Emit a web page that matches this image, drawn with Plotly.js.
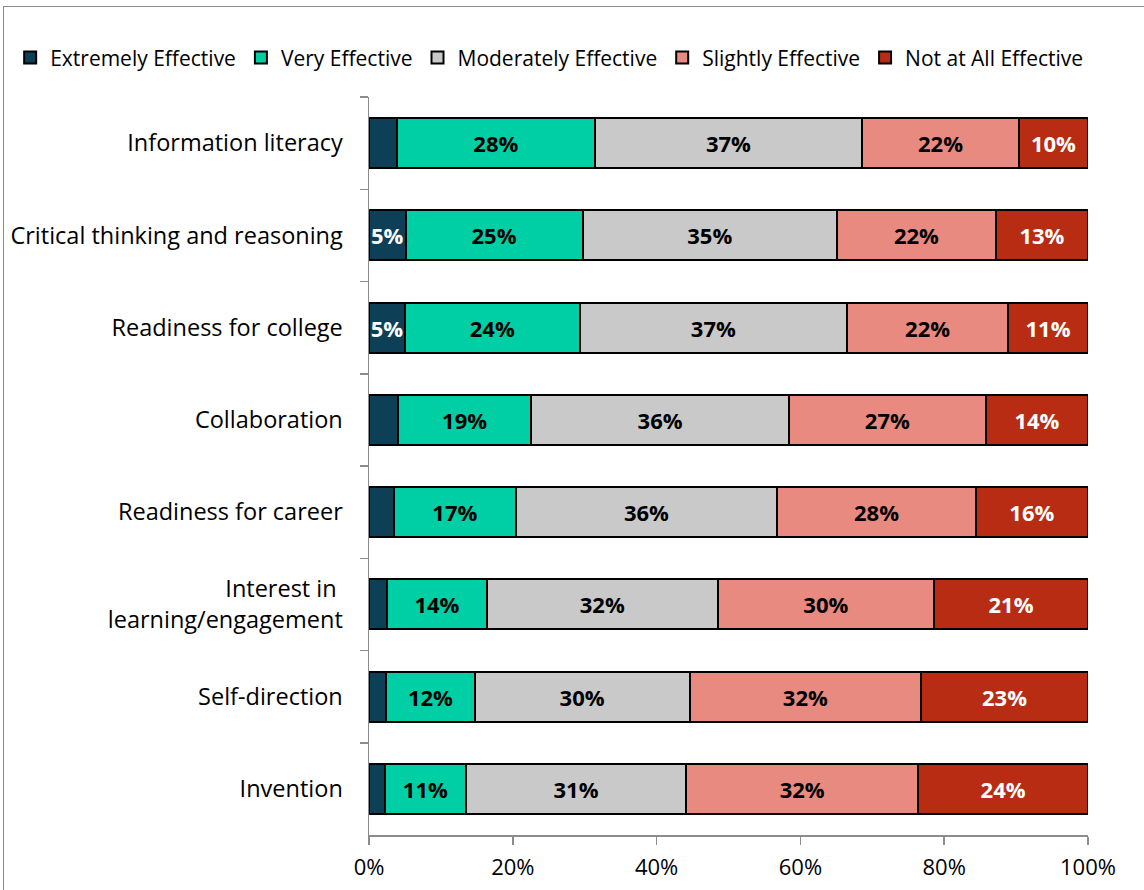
<!DOCTYPE html>
<html>
<head>
<meta charset="utf-8">
<script src="https://cdn.plot.ly/plotly-3.0.1.min.js"></script>
<style>
html,body{margin:0;padding:0;background:#fff;}
#wrap{position:relative;width:1144px;height:890px;overflow:hidden;}
#chart{position:absolute;left:0;top:0;width:1144px;height:890px;}
#frame{position:absolute;left:3px;top:6px;width:1300px;height:1000px;border:1.5px solid #8c8c8c;pointer-events:none;}
</style>
</head>
<body>
<div id="wrap"><div id="chart"></div><div id="frame"></div></div>
<script>
const categories = [
  "Information literacy",
  "Critical thinking and reasoning",
  "Readiness for college",
  "Collaboration",
  "Readiness for career",
  "Interest in\u00a0<br>learning/engagement",
  "Self-direction",
  "Invention"
];
const seriesNames = ["Extremely Effective","Very Effective","Moderately Effective","Slightly Effective","Not at All Effective"];
const extremely = [3.9, 5.1, 5.0, 4.0, 3.5, 2.5, 2.4, 2.2];
const very      = [27.5, 24.6, 24.3, 18.6, 16.9, 13.9, 12.3, 11.3];
const moderately= [37.2, 35.4, 37.2, 35.8, 36.4, 32.1, 29.9, 30.6];
const slightly  = [21.8, 22.1, 22.4, 27.4, 27.6, 30.1, 32.2, 32.3];
const notAtAll  = [9.6, 12.8, 11.1, 14.2, 15.6, 21.4, 23.2, 23.6];
const xTickVals = [0, 20, 40, 60, 80, 100];

const colors = ["#0d3f56","#00cfa5","#c9c9c9","#e98a80","#b72c12"];
const textColors = ["#ffffff","#000000","#000000","#000000","#ffffff"];
const allSeries = [extremely, very, moderately, slightly, notAtAll];
const FONT = "'Open Sans', 'Noto Sans', sans-serif";

const traces = allSeries.map((vals, i) => ({
  type: "bar",
  orientation: "h",
  name: seriesNames[i],
  y: categories,
  x: vals,
  text: vals.map(v => v >= 4.5 ? Math.round(v) + "%" : ""),
  textposition: "inside",
  insidetextanchor: "middle",
  textangle: 0,
  constraintext: "none",
  textfont: {family: FONT, size: 22, color: textColors[i], weight: "bold"},
  marker: {color: colors[i], line: {color: "#000000", width: 2}},
  hoverinfo: "skip"
}));

const layout = {
  width: 1144,
  height: 890,
  barmode: "stack",
  bargap: 0.46,
  paper_bgcolor: "#ffffff",
  plot_bgcolor: "#ffffff",
  margin: {l: 368, r: 56, t: 97, b: 55},
  font: {family: FONT, size: 22, color: "#000000"},
  uniformtext: {mode: "show", minsize: 22},
  showlegend: true,
  legend: {
    orientation: "h",
    x: -0.497, xanchor: "left",
    y: 1.053, yanchor: "middle",
    font: {size: 21, color: "#000000"},
    itemwidth: 30,
    tracegroupgap: 0,
    traceorder: "normal",
    bgcolor: "rgba(0,0,0,0)"
  },
  xaxis: {
    range: [0, 100],
    tickvals: xTickVals,
    ticktext: xTickVals.map(v => v + "%"),
    showgrid: false,
    zeroline: false,
    showline: true,
    linecolor: "#8c8c8c",
    linewidth: 1.5,
    ticks: "outside",
    ticklen: 8,
    tickwidth: 1.5,
    tickcolor: "#8c8c8c",
    tickfont: {size: 22},
    ticklabelstandoff: 4,
    automargin: false,
    fixedrange: true
  },
  yaxis: {
    autorange: "reversed",
    type: "category",
    showgrid: false,
    zeroline: false,
    showline: true,
    linecolor: "#8c8c8c",
    linewidth: 1.5,
    ticks: "outside",
    tickson: "boundaries",
    ticklen: 8,
    tickwidth: 1.5,
    tickcolor: "#8c8c8c",
    tickfont: {size: 23.5},
    ticklabelstandoff: 20,
    automargin: false,
    fixedrange: true
  }
};

Plotly.newPlot("chart", traces, layout, {displayModeBar: false, staticPlot: true});
</script>
</body>
</html>
